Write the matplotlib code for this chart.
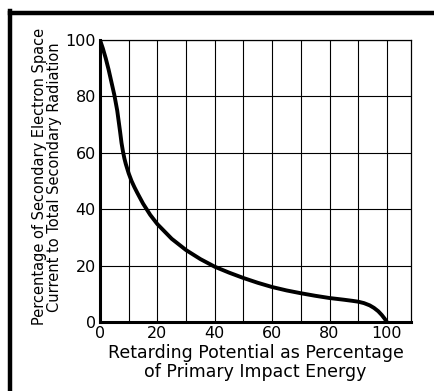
import matplotlib.pyplot as plt
from matplotlib.lines import Line2D
import numpy as np

# curve
retardo = [0, 1, 2, 3, 4, 5, 6, 7, 7.5, 8, 8.5, 9, 10, 11, 12, 13, 15, 17.5,
           20, 25, 30, 35, 40, 45, 50, 55, 60, 65, 70, 75, 80, 85, 88, 90,
           92, 94, 95.5, 97, 98.2, 99.2, 100]
corrente = [100, 97, 93.5, 89.5, 85, 80.5, 75, 67.5, 63.5, 60.5, 58, 56, 52.7,
            50, 47.8, 45.8, 42, 38, 34.7, 29.5, 25.5, 22.3, 19.6, 17.5, 15.6,
            13.9, 12.4, 11.2, 10.2, 9.3, 8.5, 7.9, 7.5, 7.2, 6.7, 5.9, 5.0,
            3.8, 2.5, 1.2, 0]

xticks = [0, 20, 40, 60, 80, 100]
yticks = [0, 20, 40, 60, 80, 100]

fig = plt.figure(figsize=(4.34, 3.91), dpi=100)
ax = fig.add_axes([100/434, 1 - 322/391, 311/434, 282/391])

ax.plot(retardo, corrente, color="black", lw=2.8, solid_capstyle="butt",
        solid_joinstyle="round")
ax.set_xlim(0, 108.4)
ax.set_ylim(0, 100)

ax.set_xticks(xticks)
ax.set_yticks(yticks)
ax.set_xticks(np.arange(10, 110, 10), minor=True)
ax.grid(True, which="major", color="black", lw=0.8)
ax.grid(True, which="minor", axis="x", color="black", lw=0.8)
ax.tick_params(which="both", length=0, labelsize=11.5, pad=3)

for s in ["left", "bottom"]:
    ax.spines[s].set_linewidth(2.2)
for s in ["top", "right"]:
    ax.spines[s].set_linewidth(0.9)

ax.set_ylabel("Percentage of Secondary Electron Space\nCurrent to Total Secondary Radiation",
              fontsize=10.5, linespacing=0.95)
ax.yaxis.set_label_coords(-0.123, 0.515)
ax.set_xlabel("Retarding Potential as Percentage\nof Primary Impact Energy",
              fontsize=12.5, linespacing=1.05)
ax.xaxis.set_label_coords(0.5, -0.078)

# thick frame at top and left of the picture
fig.add_artist(Line2D([10/434, 10/434], [0, 1 - 10.5/391], transform=fig.transFigure,
                      color="black", lw=3.2, solid_capstyle="projecting"))
fig.add_artist(Line2D([10/434, 1], [1 - 12.5/391, 1 - 12.5/391], transform=fig.transFigure,
                      color="black", lw=3.2, solid_capstyle="projecting"))

fig.savefig("out.png", dpi=100)
